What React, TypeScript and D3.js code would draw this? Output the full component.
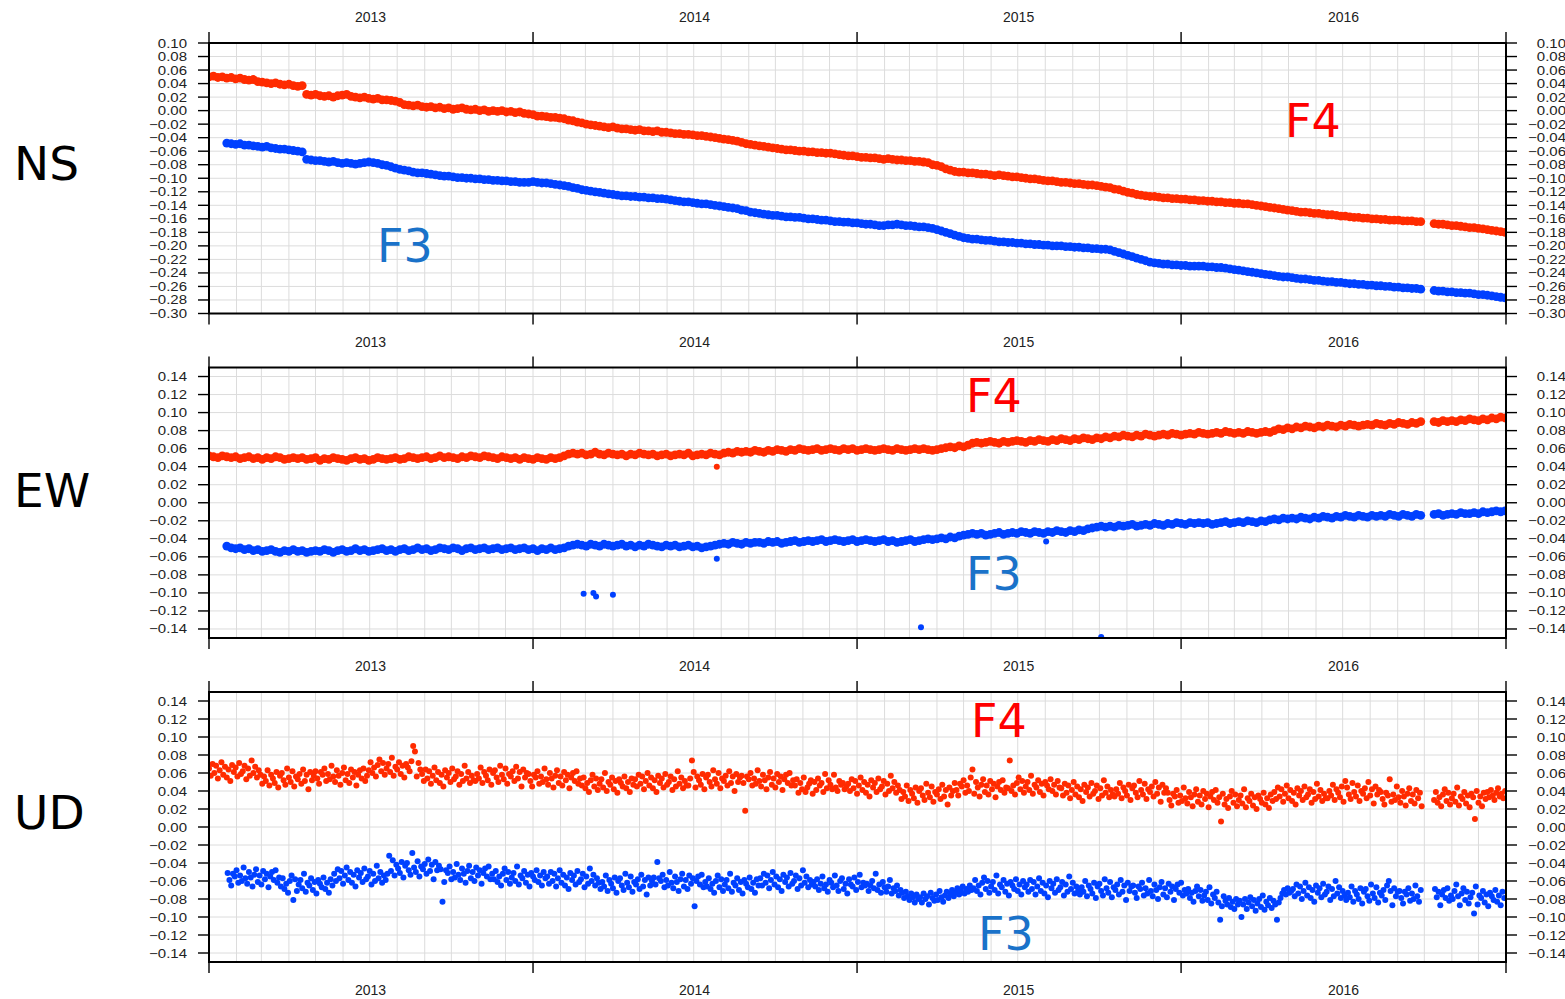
import React from "react";
import * as d3 from "d3";

// GPS station displacement (m), two stations F3 / F4, three components
// series values are stored in mm, null = no observation

const yearLabels = ["2013", "2014", "2015", "2016"];
const nsTicks = [-0.30, -0.28, -0.26, -0.24, -0.22, -0.20, -0.18, -0.16, -0.14, -0.12, -0.10, -0.08, -0.06, -0.04, -0.02, 0.00, 0.02, 0.04, 0.06, 0.08, 0.10];
const ewTicks = [-0.14, -0.12, -0.10, -0.08, -0.06, -0.04, -0.02, 0.00, 0.02, 0.04, 0.06, 0.08, 0.10, 0.12, 0.14];
const udTicks = ewTicks;

// NS, every 5 days
const nsF4Start = "2013-01-01";
const nsF4 = [
  50, 51, 49, 50, 48, 49, 47, 48, 46, 45, 46, 43, 42, 41, 40, 41, 39, 38, 39, 37,
  36, 37, 24, 23, 24, 22, 21, 22, 20, 22, 23, 24, 21, 20, 19, 20, 18, 17, 18, 16,
  16, 15, 14, 12, 9, 8, 7, 8, 6, 5, 6, 4, 5, 3, 4, 2, 3, 4, 2, 1,
  2, 0, 1, -1, 0, -1, 0, -2, -1, -3, -2, -4, -5, -6, -8, -8, -9, -10, -10, -11,
  -12, -14, -15, -17, -18, -20, -21, -22, -23, -24, -25, -24, -26, -27, -27, -28, -29, -28, -30, -30,
  -31, -30, -32, -32, -33, -34, -34, -35, -35, -36, -37, -37, -38, -39, -40, -41, -42, -43, -44, -45,
  -47, -49, -50, -51, -52, -53, -54, -55, -56, -57, -58, -58, -59, -60, -60, -61, -61, -62, -62, -63,
  -63, -64, -65, -66, -67, -67, -68, -69, -69, -70, -70, -71, -72, -71, -72, -73, -73, -74, -74, -75,
  -75, -76, -77, -80, -81, -83, -86, -88, -90, -91, -91, -92, -92, -93, -94, -94, -95, -96, -95, -96,
  -97, -98, -98, -99, -100, -101, -101, -102, -103, -104, -104, -105, -106, -106, -107, -108, -108, -109, -110, -110,
  -111, -112, -113, -114, -116, -117, -119, -121, -122, -124, -125, -126, -127, -127, -128, -129, -129, -130, -130, -131,
  -131, -132, -132, -133, -133, -134, -134, -135, -135, -136, -136, -137, -137, -138, -138, -139, -140, -141, -142, -143,
  -144, -145, -146, -147, -148, -149, -150, -150, -151, -152, -152, -153, -154, -154, -155, -156, -156, -157, -158, -158,
  -159, -159, -160, -160, -161, -161, -162, -162, -162, -163, -163, -163, -164, -164, null, null, -167, -168, -168, -169,
  -170, -170, -171, -172, -173, -173, -174, -175, -176, -177, -178, -179, -180,
];
const nsF3Start = "2013-01-21";
const nsF3 = [
  -48, -49, -50, -49, -51, -51, -52, -53, -54, -53, -55, -56, -57, -57, -58, -59, -60, -61, -72, -73,
  -74, -74, -75, -76, -75, -77, -78, -77, -78, -79, -78, -77, -76, -77, -78, -80, -81, -83, -85, -87,
  -88, -89, -91, -92, -92, -93, -94, -95, -96, -97, -97, -98, -99, -99, -100, -100, -101, -101, -102, -102,
  -103, -103, -104, -104, -105, -105, -106, -106, -106, -105, -106, -107, -107, -108, -109, -110, -111, -112, -114, -115,
  -117, -118, -119, -120, -121, -122, -123, -124, -125, -126, -126, -127, -127, -128, -128, -129, -129, -130, -130, -131,
  -132, -133, -134, -135, -135, -136, -137, -138, -138, -139, -140, -141, -142, -143, -144, -145, -147, -148, -150, -151,
  -152, -153, -154, -155, -155, -156, -157, -157, -158, -158, -159, -160, -160, -161, -162, -162, -163, -164, -164, -165,
  -165, -166, -166, -167, -168, -168, -169, -170, -170, -169, -169, -168, -169, -170, -170, -171, -172, -172, -173, -174,
  -176, -178, -180, -182, -184, -186, -188, -189, -190, -190, -191, -192, -192, -193, -194, -194, -195, -195, -196, -196,
  -197, -197, -198, -198, -199, -199, -200, -200, -200, -201, -201, -202, -202, -203, -203, -204, -204, -205, -205, -206,
  -208, -210, -212, -214, -216, -218, -220, -222, -224, -225, -226, -227, -227, -228, -228, -229, -229, -230, -230, -230,
  -230, -231, -231, -232, -232, -233, -234, -235, -236, -237, -238, -239, -240, -241, -242, -243, -244, -245, -246, -246,
  -247, -248, -249, -249, -250, -251, -251, -252, -253, -253, -254, -254, -255, -256, -256, -257, -257, -258, -258, -259,
  -259, -260, -260, -261, -261, -262, -262, -263, -263, -264, null, null, -266, -267, -267, -268, -268, -269, -269, -270,
  -270, -271, -272, -272, -273, -274, -275, -276, -277,
];

// EW, every 5 days
const ewF4Start = "2013-01-01";
const ewF4 = [
  52, 51, 50, 52, 51, 50, 51, 49, 50, 51, 49, 50, 48, 50, 49, 51, 50, 48, 49, 50,
  49, 50, 48, 49, 50, 47, 49, 48, 50, 49, 48, 47, 49, 50, 48, 49, 47, 48, 50, 49,
  48, 49, 50, 48, 49, 51, 50, 49, 50, 51, 49, 50, 52, 50, 51, 50, 49, 51, 50, 52,
  51, 50, 52, 51, 50, 49, 51, 50, 49, 50, 48, 50, 49, 48, 50, 49, 48, 50, 49, 50,
  52, 54, 55, 54, 55, 53, 54, 56, 54, 53, 55, 54, 53, 54, 52, 54, 53, 55, 54, 53,
  54, 52, 53, 54, 52, 53, 54, 53, 55, 52, 53, 54, 53, 55, 54, 53, 55, 56, 55, 57,
  56, 57, 56, 58, 57, 56, 58, 57, 59, 58, 57, 59, 58, 60, 59, 58, 59, 60, 58, 59,
  60, 59, 58, 60, 59, 60, 58, 59, 60, 59, 58, 59, 60, 59, 58, 60, 59, 58, 59, 60,
  59, 60, 59, 58, 59, 60, 61, 62, 61, 63, 62, 64, 66, 67, 66, 67, 68, 67, 66, 68,
  67, 68, 69, 68, 67, 69, 68, 70, 69, 68, 70, 69, 71, 70, 69, 71, 70, 72, 71, 70,
  72, 71, 73, 72, 74, 73, 75, 74, 73, 75, 74, 76, 75, 74, 75, 76, 75, 77, 76, 75,
  76, 77, 76, 78, 77, 76, 77, 78, 77, 79, 78, 77, 78, 77, 79, 78, 77, 78, 79, 78,
  80, 82, 81, 83, 82, 84, 83, 85, 84, 83, 85, 84, 86, 85, 84, 86, 85, 87, 86, 85,
  86, 87, 86, 88, 87, 86, 88, 87, 89, 88, 87, 89, 88, 90, null, null, 90, 89, 91, 90,
  91, 90, 92, 91, 93, 92, 91, 93, 92, 94, 93, 95, 94,
];
const ewF4Extra: [string, number][] = [["2014-07-27", 40]];
const ewF3Start = "2013-01-21";
const ewF3 = [
  -48, -50, -51, -50, -52, -51, -53, -52, -54, -53, -52, -54, -55, -53, -54, -52, -54, -53, -55, -54,
  -53, -54, -52, -53, -55, -53, -52, -54, -53, -51, -53, -52, -54, -53, -52, -51, -53, -52, -54, -52,
  -51, -53, -52, -50, -52, -51, -53, -52, -50, -51, -52, -50, -51, -53, -51, -50, -52, -51, -50, -52,
  -51, -50, -52, -51, -50, -52, -51, -50, -52, -51, -53, -51, -52, -50, -52, -51, -50, -48, -47, -46,
  -47, -48, -46, -47, -48, -46, -47, -48, -47, -46, -48, -47, -49, -47, -48, -46, -47, -48, -49, -47,
  -48, -47, -49, -48, -47, -49, -48, -50, -49, -48, -47, -46, -45, -46, -44, -45, -46, -44, -45, -44,
  -44, -45, -43, -44, -43, -45, -44, -43, -42, -44, -43, -42, -43, -42, -41, -43, -42, -41, -42, -43,
  -42, -41, -43, -42, -41, -42, -43, -42, -41, -43, -42, -44, -43, -42, -41, -43, -42, -41, -40, -41,
  -40, -39, -40, -38, -39, -37, -36, -35, -34, -35, -34, -36, -35, -34, -33, -35, -34, -33, -34, -32,
  -33, -34, -32, -33, -34, -32, -33, -31, -32, -33, -31, -32, -30, -31, -29, -28, -27, -26, -27, -26,
  -27, -25, -26, -25, -24, -26, -25, -24, -25, -23, -24, -25, -23, -24, -22, -23, -24, -22, -23, -22,
  -23, -22, -24, -23, -22, -21, -23, -22, -21, -22, -20, -21, -22, -20, -21, -19, -18, -19, -17, -18,
  -17, -18, -16, -17, -18, -16, -17, -15, -16, -17, -15, -16, -14, -15, -16, -14, -15, -16, -14, -15,
  -14, -15, -13, -14, -15, -13, -14, -15, -13, -14, null, null, -13, -12, -14, -13, -12, -13, -11, -12,
  -12, -11, -12, -10, -11, -10, -9, -10, -9,
];
const ewF3Extra: [string, number][] = [
  ["2014-02-27", -101], ["2014-03-10", -100], ["2014-03-13", -104], ["2014-04-01", -102],
  ["2014-07-27", -62], ["2015-03-14", -138], ["2015-08-02", -43], ["2015-10-03", -149],
];

// UD, every 2 days
const udF4Start = "2013-01-01";
const udF4 = [
  65, 57, 70, 60, 68, 54, 63, 72, 58, 67, 55, 64, 51, 69, 61, 66, 56, 71, 59, 62, 68, 53, 65, 57, 74, 60, 67, 55, 63, 58,
  48, 56, 51, 63, 46, 58, 54, 49, 61, 44, 57, 60, 52, 47, 65, 55, 50, 62, 45, 56, 53, 59, 48, 64, 51, 58, 42, 61, 52, 57,
  62, 54, 48, 61, 58, 65, 51, 59, 53, 68, 56, 50, 63, 57, 47, 60, 66, 52, 59, 49, 64, 55, 61, 46, 58, 63, 54, 65, 51, 57,
  63, 72, 60, 66, 56, 69, 75, 62, 71, 58, 65, 70, 61, 77, 57, 67, 64, 72, 59, 68, 55, 70, 66, 62, 73, 90, 84, 56, 71, 64,
  59, 51, 64, 54, 62, 48, 57, 66, 52, 61, 49, 58, 45, 63, 55, 60, 50, 65, 53, 56, 62, 47, 59, 51, 68, 54, 61, 49, 57, 52,
  51, 59, 54, 66, 49, 61, 57, 52, 64, 47, 60, 63, 55, 50, 68, 58, 53, 65, 48, 59, 56, 62, 51, 67, 54, 61, 45, 64, 55, 60,
  59, 51, 45, 58, 55, 62, 48, 56, 50, 65, 53, 47, 60, 54, 44, 57, 63, 49, 56, 46, 61, 52, 58, 43, 55, 60, 51, 62, 48, 54,
  46, 55, 43, 49, 39, 52, 58, 45, 54, 41, 48, 53, 44, 60, 40, 50, 47, 55, 42, 51, 38, 53, 49, 45, 56, 43, 50, 39, 54, 47,
  53, 45, 58, 48, 56, 42, 51, 60, 46, 55, 43, 52, 39, 57, 49, 54, 44, 59, 47, 50, 56, 41, 53, 45, 62, 48, 55, 43, 51, 46,
  46, 54, 74, 61, 44, 56, 52, 47, 59, 42, 55, 58, 50, 45, 63, 53, 48, 60, 43, 54, 51, 57, 46, 62, 49, 56, 40, 59, 50, 55,
  57, 49, 18, 56, 53, 60, 46, 54, 48, 63, 51, 45, 58, 52, 42, 55, 61, 47, 54, 44, 59, 50, 56, 41, 53, 58, 49, 60, 46, 52,
  46, 53, 38, 49, 42, 55, 39, 44, 48, 52, 37, 50, 41, 54, 46, 49, 39, 59, 43, 52, 47, 42, 58, 44, 40, 51, 47, 49, 42, 45,
  48, 40, 53, 43, 51, 37, 46, 55, 41, 50, 38, 47, 34, 52, 44, 49, 39, 54, 42, 45, 51, 36, 48, 40, 57, 43, 50, 38, 46, 41,
  31, 39, 34, 46, 29, 41, 37, 32, 44, 27, 40, 43, 35, 30, 48, 38, 33, 45, 28, 39, 36, 42, 31, 47, 34, 41, 25, 44, 35, 40,
  49, 41, 35, 48, 45, 52, 38, 46, 40, 55, 64, 37, 50, 44, 34, 47, 53, 39, 46, 36, 51, 42, 48, 33, 45, 50, 41, 52, 38, 44,
  43, 74, 40, 46, 36, 49, 55, 42, 51, 38, 45, 50, 41, 57, 37, 47, 44, 52, 39, 48, 35, 50, 46, 42, 53, 40, 47, 36, 51, 44,
  43, 35, 48, 38, 46, 32, 41, 50, 36, 45, 33, 42, 29, 47, 39, 44, 34, 49, 37, 40, 46, 31, 43, 35, 52, 38, 45, 33, 41, 36,
  34, 42, 37, 49, 32, 44, 40, 35, 47, 30, 43, 46, 38, 33, 51, 41, 36, 48, 31, 42, 39, 45, 34, 50, 37, 44, 28, 47, 38, 43,
  38, 30, 24, 37, 34, 41, 27, 35, 29, 44, 32, 26, 39, 33, 23, 36, 42, 28, 35, 25, 40, 31, 37, 22, 34, 39, 30, 41, 27, 33,
  6, 37, 25, 31, 21, 34, 40, 27, 36, 23, 30, 35, 26, 42, 22, 32, 29, 37, 24, 33, 20, 35, 31, 27, 38, 25, 32, 21, 36, 29,
  39, 31, 44, 34, 42, 28, 37, 46, 32, 41, 29, 38, 25, 43, 35, 40, 30, 45, 33, 36, 42, 27, 39, 31, 48, 34, 41, 29, 37, 32,
  32, 40, 35, 47, 30, 42, 38, 33, 45, 28, 51, 44, 36, 31, 49, 39, 34, 46, 29, 40, 37, 43, 32, 50, 35, 42, 26, 45, 36, 41,
  39, 31, 25, 38, 35, 53, 28, 36, 30, 45, 33, 27, 40, 34, 24, 37, 43, 29, 36, 26, 41, 32, 38, 23, null, null, null, null, null, null,
  30, 39, 27, 33, 23, 36, 42, 29, 38, 25, 32, 37, 28, 44, 24, 34, 31, 39, 26, 35, 22, 37, 33, 9, 40, 27, 34, 23, 38, 31,
  39, 33, 41, 35, 30, 38, 43, 34, 37, 32, 40,
];
const udF3Start = "2013-01-22";
const udF3 = [
  -51, -59, -65, -52, -55, -48, -62, -54, -60, -45, -57, -63, -50, -56, -66, -53, -47, -61, -54, -64, -49, -58, -52, -67, -55, -50, -59, -48, -62, -56,
  -66, -57, -69, -63, -73, -60, -54, -81, -58, -71, -64, -59, -68, -52, -72, -62, -65, -57, -70, -61, -74, -59, -63, -67, -56, -69, -62, -73, -58, -65,
  -52, -60, -47, -57, -49, -63, -54, -45, -59, -50, -62, -53, -66, -48, -56, -51, -61, -46, -58, -55, -49, -64, -52, -60, -43, -57, -50, -62, -54, -59,
  -52, -32, -49, -37, -54, -42, -46, -51, -39, -56, -43, -40, -48, -53, -29, -45, -50, -38, -55, -44, -47, -41, -52, -36, -49, -42, -58, -39, -48, -43,
  -47, -83, -61, -48, -51, -44, -58, -50, -56, -41, -53, -59, -46, -52, -62, -49, -43, -57, -50, -60, -45, -54, -48, -63, -51, -46, -55, -44, -58, -52,
  -58, -49, -61, -55, -65, -52, -46, -59, -50, -63, -56, -51, -60, -44, -64, -54, -57, -49, -62, -53, -66, -51, -55, -59, -48, -61, -54, -65, -50, -57,
  -55, -63, -50, -60, -52, -66, -57, -48, -62, -53, -65, -56, -69, -51, -59, -54, -64, -49, -61, -58, -52, -67, -55, -63, -46, -60, -53, -65, -57, -62,
  -69, -61, -66, -54, -71, -59, -63, -68, -56, -73, -60, -57, -65, -70, -52, -62, -67, -55, -72, -61, -64, -58, -69, -53, -66, -59, -75, -56, -65, -60,
  -56, -64, -39, -57, -60, -53, -67, -59, -65, -50, -62, -68, -55, -61, -71, -58, -52, -66, -59, -69, -54, -63, -57, -88, -60, -55, -64, -53, -67, -61,
  -66, -57, -69, -63, -73, -60, -54, -67, -58, -71, -64, -59, -68, -52, -72, -62, -65, -57, -70, -61, -74, -59, -63, -67, -56, -69, -62, -73, -58, -65,
  -57, -65, -52, -62, -54, -68, -59, -50, -64, -55, -67, -58, -71, -53, -61, -56, -66, -51, -63, -60, -54, -69, -57, -65, -48, -62, -55, -67, -59, -64,
  -61, -66, -58, -70, -63, -55, -68, -64, -72, -59, -62, -67, -54, -65, -71, -60, -57, -69, -63, -74, -58, -64, -66, -56, -70, -61, -53, -67, -62, -65,
  -63, -71, -65, -60, -68, -52, -70, -64, -73, -61, -67, -72, -66, -59, -74, -68, -71, -65, -76, -70, -73, -79, -72, -77, -81, -74, -78, -84, -75, -80,
  -78, -84, -74, -80, -77, -86, -73, -79, -82, -75, -81, -71, -78, -83, -76, -72, -79, -74, -70, -77, -73, -68, -75, -71, -66, -74, -69, -72, -65, -70,
  -68, -59, -71, -65, -75, -62, -56, -69, -60, -73, -66, -61, -70, -54, -74, -64, -67, -59, -72, -63, -76, -61, -65, -69, -58, -71, -64, -75, -60, -67,
  -64, -72, -59, -69, -61, -75, -66, -57, -71, -62, -74, -65, -78, -60, -68, -63, -73, -58, -70, -67, -61, -76, -64, -72, -55, -69, -62, -74, -66, -71,
  -75, -67, -72, -60, -77, -65, -69, -74, -62, -79, -66, -63, -71, -76, -58, -68, -73, -61, -78, -67, -70, -64, -75, -59, -72, -65, -81, -62, -71, -66,
  -65, -73, -79, -66, -69, -62, -76, -68, -74, -59, -71, -77, -64, -70, -80, -67, -61, -75, -68, -78, -63, -72, -66, -81, -69, -64, -73, -62, -76, -70,
  -74, -69, -79, -73, -83, -71, -66, -77, -70, -82, -76, -72, -81, -67, -85, -75, -79, -72, -84, -103, -88, -77, -82, -86, -79, -89, -83, -91, -80, -86,
  -82, -100, -86, -80, -91, -84, -78, -88, -81, -93, -85, -80, -89, -76, -92, -83, -87, -79, -90, -82, -86, -103, -84, -79, -74, -70, -75, -68, -73, -71,
  -69, -77, -64, -74, -66, -80, -71, -62, -76, -67, -79, -70, -83, -65, -73, -68, -78, -63, -75, -72, -66, -81, -69, -77, -60, -74, -67, -79, -71, -76,
  -81, -73, -78, -66, -83, -71, -75, -80, -68, -85, -72, -69, -77, -82, -64, -74, -79, -67, -84, -73, -76, -70, -81, -65, -60, -71, -87, -68, -77, -72,
  -71, -79, -85, -72, -75, -68, -82, -74, -80, -65, -77, -83, -70, null, null, null, null, null, null, null, -69, -78, -72, -87, -75, -70, -79, -68, -82, -76,
  -80, -71, -64, -77, -87, -74, -68, -81, -72, -85, -78, -73, -96, -66, -86, -76, -79, -71, -84, -75, -88, -73, -77, -81, -70, -83, -76, -87, -72, -79,
];

const RED = "#ff2b00";
const BLUE = "#0040ff";
const F4_TEXT = "#ff0000";
const F3_TEXT = "#1a72c9";
const AXIS_FONT = "'Liberation Sans', Arial, Helvetica, sans-serif";
const BIG_FONT = "'DejaVu Sans', Verdana, sans-serif";

const W = 1565;
const H = 999;
const LEFT = 209;
const RIGHT = 1506;

const parse = d3.utcParse("%Y-%m-%d");
const t0 = new Date(Date.UTC(2013, 0, 1));
const t1 = new Date(Date.UTC(2017, 0, 1));
const x = d3.scaleUtc().domain([t0, t1]).range([LEFT, RIGHT]);
const monthLines = d3.utcMonth.range(d3.utcMonth.offset(t0, 1), t1);
const yearEdges = d3.utcYear.range(t0, d3.utcDay.offset(t1, 1));
const fmt = d3.format(".2f");

type Pt = { t: Date; v: number };
function sampled(start: string, step: number, mm: (number | null)[]): Pt[] {
  const s = parse(start) as Date;
  const out: Pt[] = [];
  mm.forEach((v, i) => {
    if (v !== null) out.push({ t: d3.utcDay.offset(s, i * step), v: v / 1000 });
  });
  return out;
}
function extra(list: [string, number][]): Pt[] {
  return list.map(([d, v]) => ({ t: parse(d) as Date, v: v / 1000 }));
}

const panels = [
  {
    name: "NS", top: 43, bottom: 313.5, domain: [-0.30, 0.10], ticks: nsTicks, nameY: 180,
    series: [
      { pts: sampled(nsF4Start, 5, nsF4), color: RED, r: 4.4 },
      { pts: sampled(nsF3Start, 5, nsF3), color: BLUE, r: 4.4 },
    ],
    tags: [{ text: "F4", x: 1285, y: 137, color: F4_TEXT }, { text: "F3", x: 377, y: 262, color: F3_TEXT }],
    bottomYears: false,
  },
  {
    name: "EW", top: 367.5, bottom: 638, domain: [-0.15, 0.15], ticks: ewTicks, nameY: 507,
    series: [
      { pts: sampled(ewF4Start, 5, ewF4), color: RED, r: 4.4 },
      { pts: sampled(ewF3Start, 5, ewF3), color: BLUE, r: 4.4 },
      { pts: extra(ewF4Extra), color: RED, r: 3 },
      { pts: extra(ewF3Extra), color: BLUE, r: 3 },
    ],
    tags: [{ text: "F4", x: 966, y: 412, color: F4_TEXT }, { text: "F3", x: 966, y: 590, color: F3_TEXT }],
    bottomYears: false,
  },
  {
    name: "UD", top: 692, bottom: 962, domain: [-0.15, 0.15], ticks: udTicks, nameY: 829,
    series: [
      { pts: sampled(udF4Start, 2, udF4), color: RED, r: 3 },
      { pts: sampled(udF3Start, 2, udF3), color: BLUE, r: 3 },
    ],
    tags: [{ text: "F4", x: 971, y: 737, color: F4_TEXT }, { text: "F3", x: 978, y: 950, color: F3_TEXT }],
    bottomYears: true,
  },
];

function Panel({ p }: { p: (typeof panels)[number] }) {
  const y = d3.scaleLinear().domain(p.domain).range([p.bottom, p.top]);
  const clipId = `clip-${p.name}`;
  return (
    <g>
      <defs>
        <clipPath id={clipId}>
          <rect x={LEFT} y={p.top} width={RIGHT - LEFT} height={p.bottom - p.top} />
        </clipPath>
      </defs>

      {/* grid */}
      <g stroke="#dcdcdc" strokeWidth={1}>
        {monthLines.map((m) => (
          <line key={+m} x1={x(m)} x2={x(m)} y1={p.top} y2={p.bottom} />
        ))}
        {p.ticks.map((v) => (
          <line key={v} x1={LEFT} x2={RIGHT} y1={y(v)} y2={y(v)} />
        ))}
      </g>

      {/* dots */}
      <g clipPath={`url(#${clipId})`}>
        {p.series.map((s, si) => (
          <g key={si} fill={s.color}>
            {s.pts.map((d, i) => (
              <circle key={i} cx={x(d.t)} cy={y(d.v)} r={s.r} />
            ))}
          </g>
        ))}
      </g>

      {/* frame and ticks */}
      <rect x={LEFT} y={p.top} width={RIGHT - LEFT} height={p.bottom - p.top} fill="none" stroke="#000" strokeWidth={2} />
      <g stroke="#000" strokeWidth={1.4}>
        {p.ticks.map((v) => (
          <g key={v}>
            <line x1={LEFT - 11} x2={LEFT} y1={y(v)} y2={y(v)} />
            <line x1={RIGHT} x2={RIGHT + 11} y1={y(v)} y2={y(v)} />
          </g>
        ))}
        {yearEdges.map((e) => (
          <g key={+e}>
            <line x1={x(e)} x2={x(e)} y1={p.top - 11} y2={p.top} />
            <line x1={x(e)} x2={x(e)} y1={p.bottom} y2={p.bottom + 11} />
          </g>
        ))}
      </g>

      {/* tick labels */}
      <g fontFamily={AXIS_FONT} fontSize={12.5} fill="#222">
        {p.ticks.map((v) => (
          <g key={v}>
            <text transform={`translate(${LEFT - 22},${y(v)}) scale(1.2,1)`} textAnchor="end" dy="0.36em">
              {fmt(v)}
            </text>
            <text transform={`translate(${RIGHT + 60},${y(v)}) scale(1.2,1)`} textAnchor="end" dy="0.36em">
              {fmt(v)}
            </text>
          </g>
        ))}
      </g>
      <g fontFamily={AXIS_FONT} fontSize={14} fill="#222" textAnchor="middle">
        {yearLabels.map((yl) => (
          <text key={yl} x={x(new Date(Date.UTC(+yl, 6, 2)))} y={p.top - 21}>
            {yl}
          </text>
        ))}
        {p.bottomYears &&
          yearLabels.map((yl) => (
            <text key={"b" + yl} x={x(new Date(Date.UTC(+yl, 6, 2)))} y={p.bottom + 33}>
              {yl}
            </text>
          ))}
      </g>

      {/* labels */}
      <text x={14} y={p.nameY} fontFamily={BIG_FONT} fontSize={47} fill="#000">
        {p.name}
      </text>
      {p.tags.map((tg) => (
        <text key={tg.text} x={tg.x} y={tg.y} fontFamily={BIG_FONT} fontSize={46} fill={tg.color}>
          {tg.text}
        </text>
      ))}
    </g>
  );
}

export default function App() {
  return (
    <svg
      width={W}
      height={H}
      viewBox={`0 0 ${W} ${H}`}
      style={{ position: "absolute", left: 0, top: 0, background: "#fff" }}
    >
      {panels.map((p) => (
        <Panel key={p.name} p={p} />
      ))}
    </svg>
  );
}
